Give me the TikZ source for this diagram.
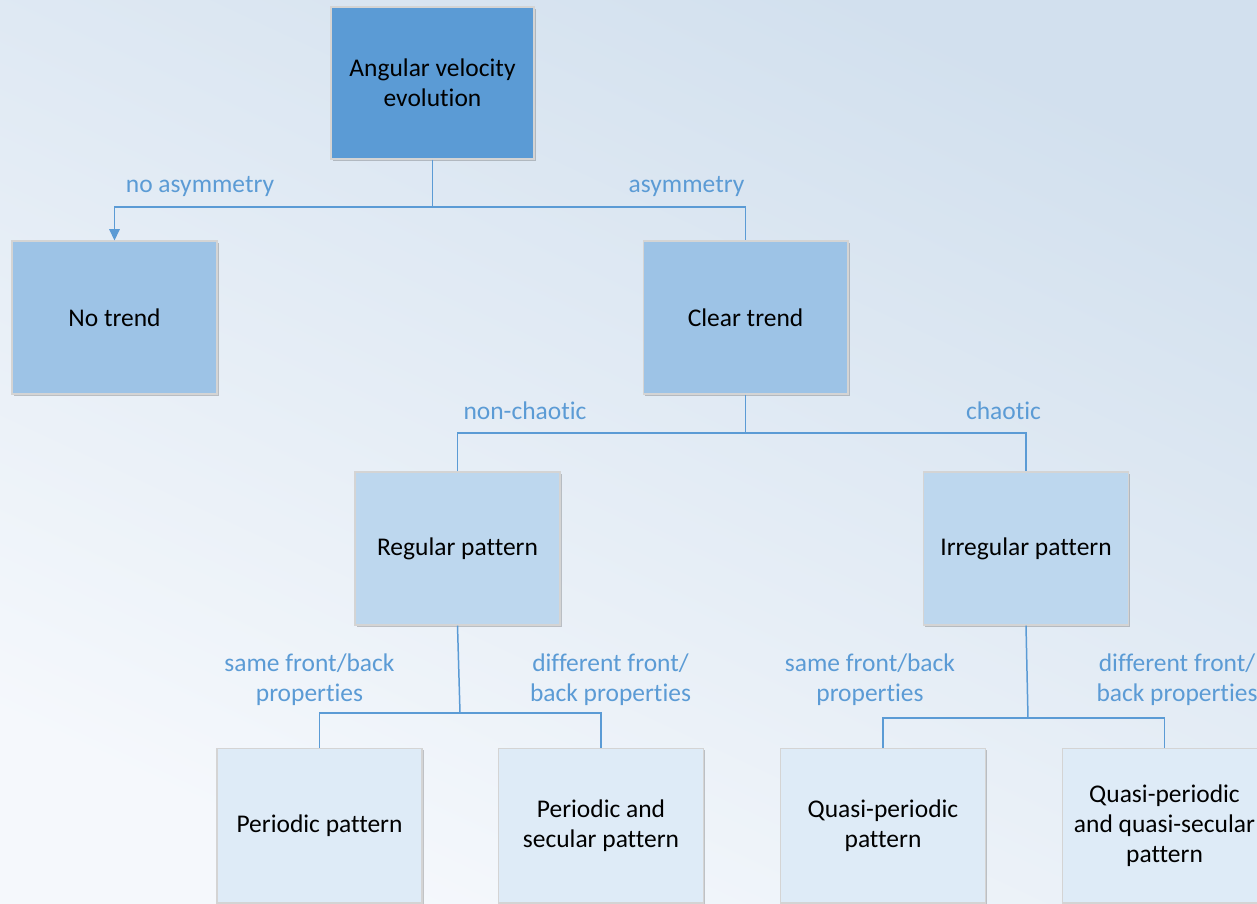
\documentclass[tikz,border=0pt]{standalone}
\usepackage{fontspec}
\setmainfont{Carlito}[Ligatures=NoCommon]
\usetikzlibrary{arrows.meta,shadows}

\definecolor{bgtop}{HTML}{D2E0EE}
\definecolor{bgbot}{HTML}{F5F8FC}
\definecolor{linkblue}{HTML}{5B9BD5}
\definecolor{lvla}{HTML}{5B9BD5}
\definecolor{lvlb}{HTML}{9DC3E6}
\definecolor{lvlc}{HTML}{BDD7EE}
\definecolor{lvld}{HTML}{DEEBF7}

\tikzset{
    box/.style={rectangle, draw=black!17, line width=0.6pt, minimum width=4.1cm, minimum height=3.06cm,
        align=center, inner sep=2pt, font=\fontsize{14.5}{17}\selectfont,
        drop shadow={shadow xshift=1pt, shadow yshift=-1.4pt, opacity=0.3, fill=black!70}},
    link/.style={draw=linkblue, line width=0.85pt},
    tag/.style={text=linkblue, align=center, inner sep=0pt, font=\fontsize{14.5}{17}\selectfont},
}

\begin{document}
\begin{tikzpicture}[x=0.02cm, y=-0.02cm]
            \shade[top color=bgtop, bottom color=bgbot, shading angle=-25] (0,0) rectangle (1257,903);
            \useasboundingbox (0,0) rectangle (1257,903);

            \node[box, fill=lvla, minimum width=4.06cm, minimum height=3.04cm] (root) at (432.5,83) {Angular velocity\\evolution};
            \node[box, fill=lvlb] (notrend) at (114.5,317.5) {No trend};
            \node[box, fill=lvlb] (clear) at (745.5,317.5) {Clear trend};
            \node[box, fill=lvlc] (regular) at (457.5,548.5) {Regular pattern};
            \node[box, fill=lvlc] (irregular) at (1026,548.5) {Irregular pattern};
            \node[box, fill=lvld, minimum height=3.1cm] (periodic) at (319.5,825.5) {Periodic pattern};
            \node[box, fill=lvld, minimum height=3.1cm] (persec) at (601,825.5) {Periodic and\\secular pattern};
            \node[box, fill=lvld, minimum height=3.1cm] (quasi) at (883,825.5) {Quasi-periodic\\pattern};
            \node[box, fill=lvld, minimum height=3.1cm] (quasisec) at (1164.5,825.5) {Quasi-periodic\\and quasi-secular\\pattern};

            \coordinate (j1) at (432.5,207);
            \coordinate (j2) at (745.5,433);
            \coordinate (j3) at (460,713);
            \coordinate (j4) at (1028,718);

            \draw[link] (root.south) -- (j1);
            \draw[link, -{Triangle[width=6pt, length=6.5pt]}] (j1) -| (notrend.north);
            \draw[link] (j1) -| (clear.north);
            \draw[link] (clear.south) -- (j2);
            \draw[link] (j2) -| (regular.north);
            \draw[link] (j2) -| (irregular.north);
            \draw[link] (regular.south) -- (j3);
            \draw[link] (j3) -| (periodic.north);
            \draw[link] (j3) -| (persec.north);
            \draw[link] (irregular.south) -- (j4);
            \draw[link] (j4) -| (quasi.north);
            \draw[link] (j4) -| (quasisec.north);

            \node[tag] (t1) at (200,186) {no asymmetry};
            \node[tag] (t2) at (686.5,186) {asymmetry};
            \node[tag] (t3) at (525,411) {non-chaotic};
            \node[tag] (t4) at (1003.5,411) {chaotic};
            \node[tag] (t5) at (309.5,680) {same front/back\\properties};
            \node[tag] (t6) at (610.5,680) {different front/\\back properties};
            \node[tag] (t7) at (870,680) {same front/back\\properties};
            \node[tag] (t8) at (1177,680) {different front/\\back properties};
        \end{tikzpicture}
\end{document}
